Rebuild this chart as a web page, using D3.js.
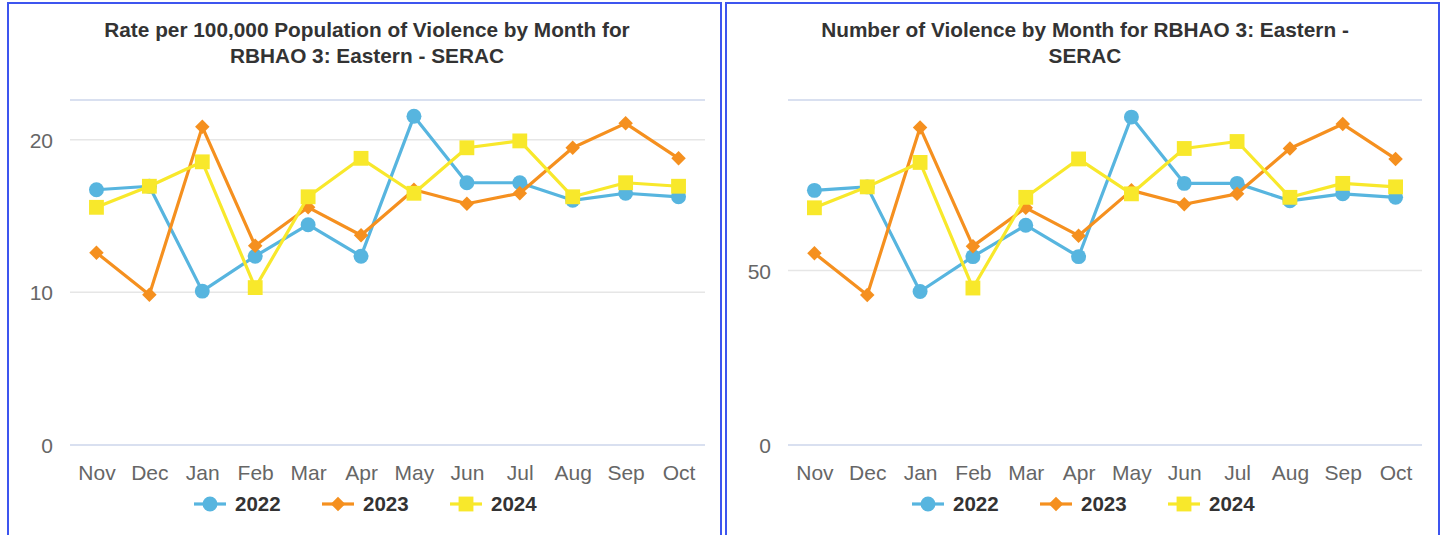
<!DOCTYPE html>
<html>
<head>
<meta charset="utf-8">
<script src="https://cdn.jsdelivr.net/npm/d3@7"></script>
<style>
  html, body { margin: 0; padding: 0; background: #fff; }
  svg { display: block; font-family: "Liberation Sans", Arial, sans-serif; }
</style>
</head>
<body>
<svg id="chart" width="1443" height="535"></svg>
<script>
const months = ["Nov","Dec","Jan","Feb","Mar","Apr","May","Jun","Jul","Aug","Sep","Oct"];
const years = ["2022","2023","2024"];

const rate2022 = [16.72,16.95,10.08,12.37,14.43,12.37,21.53,17.18,17.18,16.03,16.49,16.26];
const rate2023 = [12.60,9.85,20.84,13.05,15.57,13.74,16.72,15.80,16.49,19.47,21.07,18.78];
const rate2024 = [15.57,16.95,18.55,10.31,16.26,18.78,16.49,19.47,19.92,16.26,17.18,16.95];

const count2022 = [73,74,44,54,63,54,94,75,75,70,72,71];
const count2023 = [55,43,91,57,68,60,73,69,72,85,92,82];
const count2024 = [68,74,81,45,71,82,72,85,87,71,75,74];

const rateTicks = [0,10,20];
const countTicks = [0,50];

const rateTitle = ["Rate per 100,000 Population of Violence by Month for", "RBHAO 3: Eastern - SERAC"];
const countTitle = ["Number of Violence by Month for RBHAO 3: Eastern -", "SERAC"];

const colors = ["#57b5df", "#f5901f", "#f8e82b"];
const shapes = [d3.symbolCircle, d3.symbolSquare, d3.symbolSquare];
const shapeSizes = [175, 105, 220];
const shapeRot = [0, 45, 0];

const svg = d3.select("#chart");

function panel(opt) {
  const g = svg.append("g");
  g.append("rect")
    .attr("x", opt.bx).attr("y", 3)
    .attr("width", opt.bw).attr("height", 545)
    .attr("fill", "none").attr("stroke", "#3d55ef").attr("stroke-width", 2);

  const x = d3.scalePoint().domain(months).range([opt.x0, opt.x1]).padding(0.5);
  const y = d3.scaleLinear().domain([0, opt.ymax]).range([445, 100]);

  const cx = opt.tcx;
  opt.title.forEach((t, i) => {
    g.append("text")
      .attr("x", cx).attr("y", 37 + i * 26)
      .attr("text-anchor", "middle")
      .attr("font-size", 20.8).attr("font-weight", "bold")
      .attr("fill", "#333")
      .text(t);
  });

  g.append("g").selectAll("line").data(opt.ticks.filter(t => t > 0)).join("line")
    .attr("x1", opt.x0).attr("x2", opt.x1)
    .attr("y1", d => y(d)).attr("y2", d => y(d))
    .attr("stroke", "#e6e6e6").attr("stroke-width", 1.5);
  g.append("line").attr("x1", opt.x0).attr("x2", opt.x1)
    .attr("y1", y(opt.ymax)).attr("y2", y(opt.ymax))
    .attr("stroke", "#ccd6eb").attr("stroke-width", 1.5);
  g.append("line").attr("x1", opt.x0).attr("x2", opt.x1)
    .attr("y1", y(0)).attr("y2", y(0))
    .attr("stroke", "#ccd6eb").attr("stroke-width", 1.5);

  const ya = g.append("g").attr("transform", `translate(${opt.x0 - 17},0)`)
    .call(d3.axisLeft(y).tickValues(opt.ticks).tickSize(0).tickPadding(0));
  ya.select(".domain").remove();
  ya.selectAll("text").attr("font-size", 21).attr("fill", "#666")
    .attr("font-family", "Liberation Sans, Arial, sans-serif").attr("dy", "0.36em");

  const xa = g.append("g").attr("transform", `translate(0,445)`)
    .call(d3.axisBottom(x).tickSize(0).tickPadding(0));
  xa.select(".domain").remove();
  xa.selectAll("text").attr("font-size", 21).attr("fill", "#666")
    .attr("font-family", "Liberation Sans, Arial, sans-serif").attr("dy", "1.65em");

  const line = d3.line().x((d, i) => x(months[i])).y(d => y(d));
  opt.series.forEach((vals, si) => {
    g.append("path").datum(vals)
      .attr("d", line).attr("fill", "none")
      .attr("stroke", colors[si]).attr("stroke-width", 3.2)
      .attr("stroke-linejoin", "round");
    g.append("g").selectAll("path").data(vals).join("path")
      .attr("d", d3.symbol().type(shapes[si]).size(shapeSizes[si]))
      .attr("transform", (d, i) => `translate(${x(months[i])},${y(d)}) rotate(${shapeRot[si]})`)
      .attr("fill", colors[si]);
  });

  const lg = g.append("g").attr("transform", `translate(0,504)`);
  years.forEach((yr, si) => {
    const lx = opt.legX + si * 128;
    lg.append("line").attr("x1", lx).attr("x2", lx + 32)
      .attr("y1", 0).attr("y2", 0)
      .attr("stroke", colors[si]).attr("stroke-width", 3.2);
    lg.append("path")
      .attr("d", d3.symbol().type(shapes[si]).size(shapeSizes[si]))
      .attr("transform", `translate(${lx + 16},0) rotate(${shapeRot[si]})`)
      .attr("fill", colors[si]);
    lg.append("text").attr("x", lx + 41).attr("y", 0).attr("dy", "0.36em")
      .attr("font-size", 20.5).attr("font-weight", "bold").attr("fill", "#333")
      .text(yr);
  });
}

panel({ bx: 8, bw: 713, x0: 70, x1: 705, ymax: 22.6, ticks: rateTicks,
        title: rateTitle, tcx: 367, legX: 194,
        series: [rate2022, rate2023, rate2024] });
panel({ bx: 726, bw: 713, x0: 788, x1: 1422, ymax: 98.9, ticks: countTicks,
        title: countTitle, tcx: 1085, legX: 912,
        series: [count2022, count2023, count2024] });
</script>
</body>
</html>
